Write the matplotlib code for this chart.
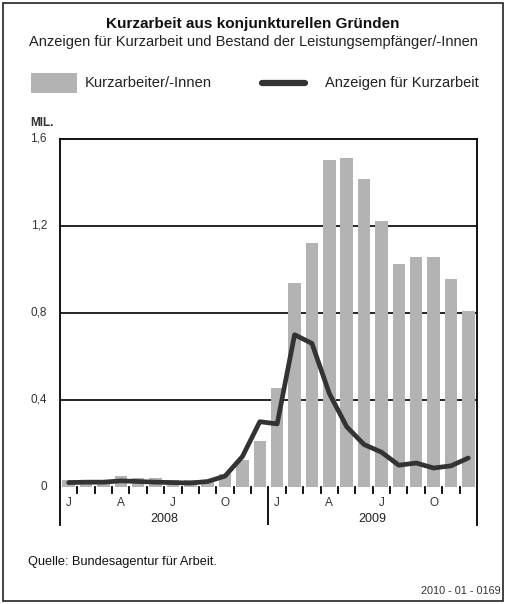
import matplotlib
matplotlib.use("Agg")
import matplotlib.pyplot as plt
from matplotlib.patches import Rectangle
from matplotlib.lines import Line2D

plt.rcParams['font.family'] = ['Liberation Sans Narrow', 'Liberation Sans', 'DejaVu Sans']

# ---- data ----
month_letters = ["J", "", "", "A", "", "", "J", "", "", "O", "", "",
                 "J", "", "", "A", "", "", "J", "", "", "O", "", ""]
years = ["2008", "2009"]
kurzarbeiter = [0.03, 0.03, 0.03, 0.05, 0.04, 0.04, 0.03, 0.03, 0.03, 0.06, 0.125, 0.21,
                0.455, 0.937, 1.123, 1.503, 1.514, 1.416, 1.223, 1.027, 1.056, 1.056, 0.958, 0.811]
anzeigen = [0.02, 0.022, 0.022, 0.028, 0.025, 0.022, 0.02, 0.018, 0.025, 0.05, 0.14, 0.30,
            0.29, 0.70, 0.66, 0.43, 0.277, 0.195, 0.16, 0.10, 0.11, 0.087, 0.097, 0.133]
yticks = [0, 0.4, 0.8, 1.2, 1.6]
ytick_labels = ["0", "0,4", "0,8", "1,2", "1,6"]

W, H = 506, 604
fig = plt.figure(figsize=(W / 100, H / 100), dpi=100)

# outer border
fig.patches.append(Rectangle((3 / W, 3 / H), (W - 6) / W, (H - 6) / H, transform=fig.transFigure,
                             fill=False, edgecolor="#222222", linewidth=1.2))

BAR = "#b3b3b3"
LINE = "#333333"

fig.text(0.5, 1 - 24 / H, "Kurzarbeit aus konjunkturellen Gründen", ha="center", va="center",
         fontsize=11, fontweight="bold", color="#111111")
fig.text(0.5, 1 - 42 / H, "Anzeigen für Kurzarbeit und Bestand der Leistungsempfänger/-Innen",
         ha="center", va="center", fontsize=10.5, color="#222222")

# legend
fig.patches.append(Rectangle((31 / W, 1 - 93 / H), 46 / W, 20 / H, transform=fig.transFigure,
                             facecolor=BAR, edgecolor="none"))
fig.text(85 / W, 1 - 83 / H, "Kurzarbeiter/-Innen", ha="left", va="center", fontsize=10.6, color="#222222")
fig.lines.append(Line2D([262 / W, 305 / W], [1 - 83 / H, 1 - 83 / H], transform=fig.transFigure,
                        color=LINE, linewidth=4.5, solid_capstyle="round"))
fig.text(325 / W, 1 - 83 / H, "Anzeigen für Kurzarbeit", ha="left", va="center", fontsize=10.5, color="#222222")

# axes
ax = fig.add_axes([60 / W, (H - 525) / H, 417 / W, (525 - 139) / H])
ymin = -0.175
ax.set_xlim(-0.5, 23.5)
ax.set_ylim(ymin, 1.6)

x = list(range(len(kurzarbeiter)))
for yv in yticks[1:4]:
    ax.axhline(yv, color="black", linewidth=1.2, zorder=1)
ax.bar(x, kurzarbeiter, width=0.72, color=BAR, zorder=2)
ax.plot(x, anzeigen, color=LINE, linewidth=3.4, solid_joinstyle="round", solid_capstyle="round", zorder=3)

for s in ["left", "right", "top"]:
    ax.spines[s].set_linewidth(1.3)
    ax.spines[s].set_color("black")
ax.spines["bottom"].set_visible(False)

ax.set_xticks([])
ax.set_yticks([])

# y labels
for yv, lab in zip(yticks, ytick_labels):
    ax.text(-1.25, yv, lab, ha="right", va="center", fontsize=8.5, color="#333333",
            transform=ax.transData, clip_on=False)
ax.text(-2.23, 1.6 + 0.075, "MIL.", ha="left", va="center", fontsize=8.5, fontweight="bold",
        color="#333333", clip_on=False)

# month ticks
for i in range(1, 24):
    if i == 12:
        continue
    ax.plot([i - 0.5, i - 0.5], [0, -0.026], color="black", linewidth=1.3, zorder=4)
ax.plot([11.5, 11.5], [0, ymin], color="black", linewidth=1.3, zorder=4)
for i, lab in enumerate(month_letters):
    if lab:
        ax.text(i, -0.075, lab, ha="center", va="center", fontsize=8.5, color="#333333")
ax.text(5.5, -0.147, years[0], ha="center", va="center", fontsize=9, color="#222222")
ax.text(17.5, -0.147, years[1], ha="center", va="center", fontsize=9, color="#222222")

fig.text(28 / W, 1 - 562 / H, "Quelle: Bundesagentur für Arbeit.", ha="left", va="center",
         fontsize=9.2, color="#111111")
fig.text(501 / W, 1 - 591 / H, "2010 - 01 - 0169", ha="right", va="center", fontsize=7.8, color="#333333")

fig.savefig("out.png", dpi=100)
